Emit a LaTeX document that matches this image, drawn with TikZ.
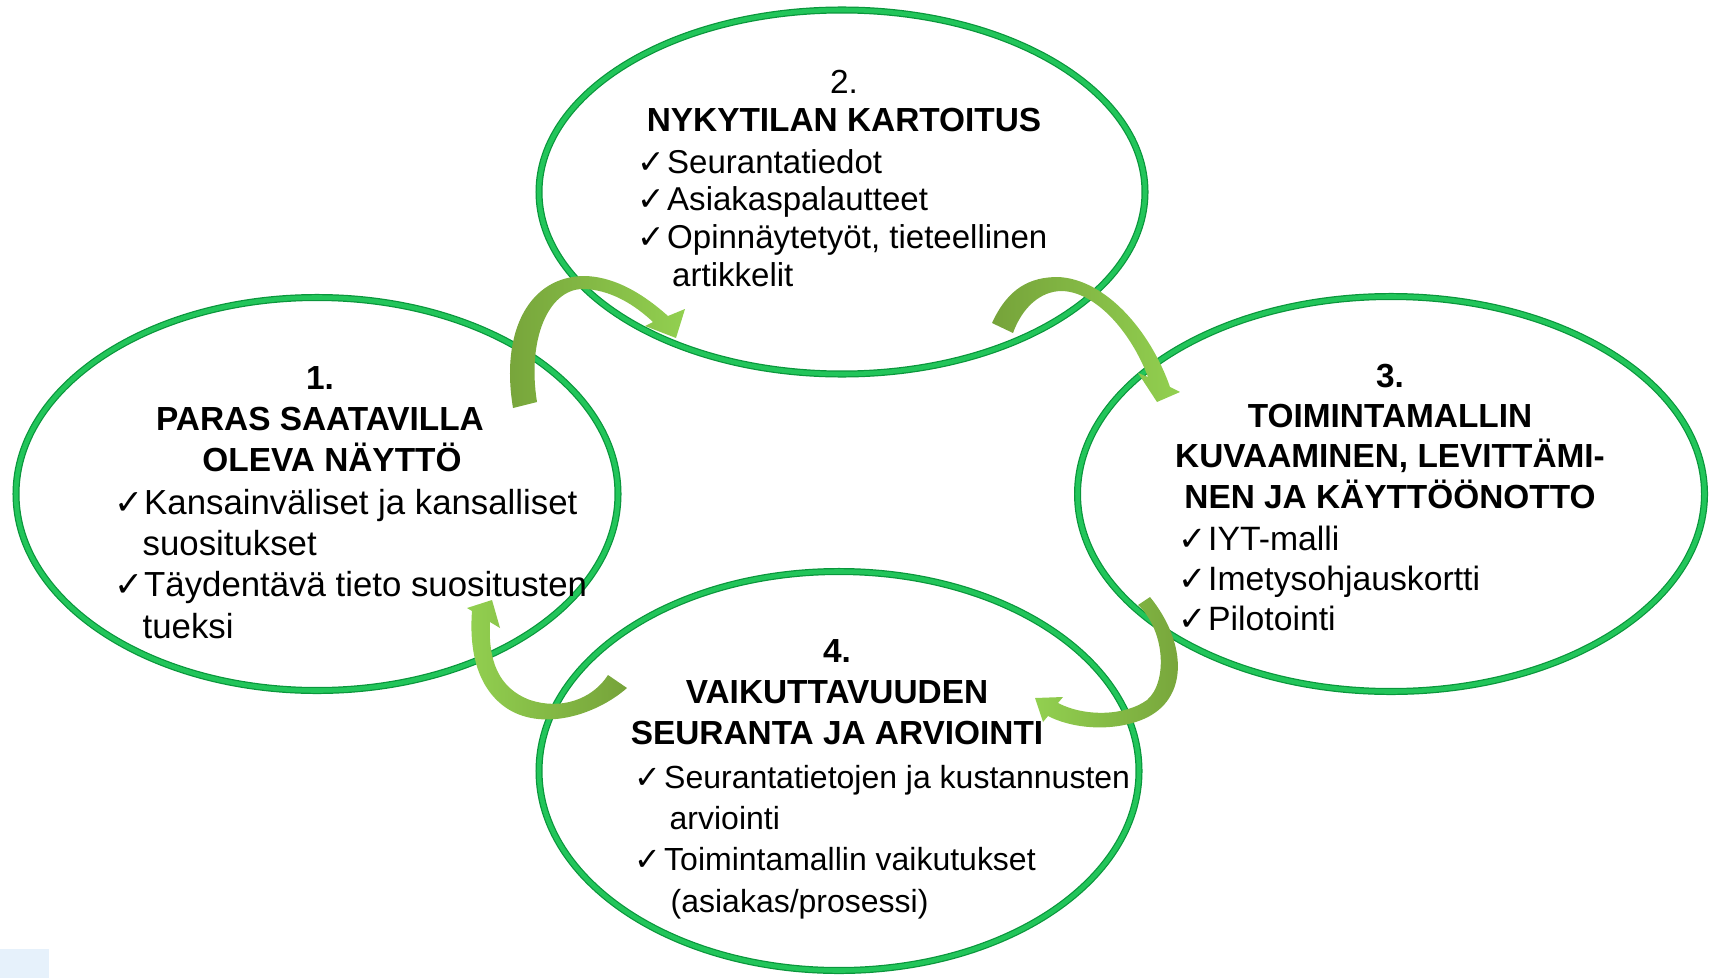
\documentclass[tikz,border=0pt]{standalone}
\usepackage{fontspec}
\setmainfont{Liberation Sans}
\newfontfamily\dejavu{DejaVu Sans}
\usetikzlibrary{shapes.geometric}

\definecolor{vertBulle}{RGB}{34,197,90}
\definecolor{vertBord}{RGB}{10,150,60}
\definecolor{vertFonce}{RGB}{118,163,58}
\definecolor{vertClair}{RGB}{146,208,80}
\definecolor{bleuPale}{RGB}{230,241,251}

\newcommand{\Coche}{\makebox[2.95mm][l]{\dejavu ✓}}

\tikzset{
  bulle/.style={ellipse, draw=vertBord, double=vertBulle, double distance=1.3pt, line width=0.35pt, inner sep=0pt},
  titre/.style={anchor=base, inner sep=0pt, font=\bfseries},
  liste/.style={anchor=base west, inner sep=0pt}
}

\begin{document}
\begin{tikzpicture}[x=0.1mm, y=-0.1mm]

\useasboundingbox (0,0) rectangle (1714,978);
\fill[bleuPale] (0,949) rectangle (49,978);

%les quatre ellipses
\foreach \nom/\cx/\cy/\lx/\ly in {1/317/494/60.2/39.3, 2/842/192/60.6/36.4, 3/1391/494/62.7/39.5, 4/839/771/60.0/39.9}{
  \node[bulle, minimum width=\lx mm, minimum height=\ly mm] (e\nom) at (\cx,\cy) {};
}

%début des flèches
% 1 vers 2
\shade[left color=vertFonce, right color=vertClair] (513,408) .. controls (500,330) and (530,276) .. (585,276)
  .. controls (620,277) and (650,300) .. (668,316) -- (685,309) -- (676,338) -- (645,326) -- (653,322)
  .. controls (635,305) and (610,289) .. (582,289) .. controls (548,290) and (527,340) .. (537,402) -- cycle;
% 2 vers 3
\shade[left color=vertFonce, right color=vertClair] (992,323) .. controls (1008,288) and (1030,277) .. (1058,277)
  .. controls (1105,279) and (1150,330) .. (1170,387) -- (1180,392) -- (1157,402) -- (1138,373) -- (1148,377)
  .. controls (1130,330) and (1095,292) .. (1062,291) .. controls (1040,291) and (1022,308) .. (1013,333) -- cycle;
% 3 vers 4
\shade[left color=vertClair, right color=vertFonce] (1138,605) -- (1150,597) .. controls (1185,640) and (1190,695) .. (1148,717)
  .. controls (1118,732) and (1075,730) .. (1048,716) -- (1043,722) -- (1035,698) -- (1063,697) -- (1058,703)
  .. controls (1085,717) and (1125,716) .. (1147,700) .. controls (1168,682) and (1165,630) .. (1138,605) -- cycle;
% 4 vers 1
\shade[left color=vertClair, right color=vertFonce] (608,675) -- (627,688) .. controls (595,716) and (540,732) .. (505,707)
  .. controls (477,687) and (469,650) .. (472,611) -- (467,608) -- (492,600) -- (500,628) -- (490,622)
  .. controls (488,660) and (498,688) .. (530,700) .. controls (560,710) and (592,700) .. (608,675) -- cycle;
%fin des flèches

% 1.
\node[titre] (t1) at (320,389) {\fontsize{9.5}{11.7}\selectfont\begin{tabular}[t]{@{}c@{}}1.\\PARAS SAATAVILLA\\\hspace*{2.4mm}OLEVA NÄYTTÖ\end{tabular}};
\node[liste] (l1) at (114,514) {\fontsize{9.9}{11.8}\selectfont\begin{tabular}[t]{@{}l@{}}\Coche Kansainväliset ja kansalliset\\\hspace*{2.8mm}suositukset\\\Coche Täydentävä tieto suositusten\\\hspace*{2.8mm}tueksi\end{tabular}};

% 2.
\node[titre] (t2) at (844,94) {\fontsize{9.5}{10.8}\selectfont\begin{tabular}[t]{@{}c@{}}{\mdseries 2.}\\NYKYTILAN KARTOITUS\end{tabular}};
\node[liste] (l2) at (637,173) {\fontsize{9.4}{10.8}\selectfont\begin{tabular}[t]{@{}l@{}}\Coche Seurantatiedot\\\Coche Asiakaspalautteet\\\Coche Opinnäytetyöt, tieteellinen\\\hspace*{3.45mm}artikkelit\end{tabular}};

% 3.
\node[titre] (t3) at (1390,387) {\fontsize{9.5}{11.4}\selectfont\begin{tabular}[t]{@{}c@{}}3.\\TOIMINTAMALLIN\\KUVAAMINEN, LEVITTÄMI-\\NEN JA KÄYTTÖÖNOTTO\end{tabular}};
\node[liste] (l3) at (1178,550) {\fontsize{9.6}{11.5}\selectfont\begin{tabular}[t]{@{}l@{}}\Coche IYT-malli\\\Coche Imetysohjauskortti\\\Coche Pilotointi\end{tabular}};

% 4.
\node[titre] (t4) at (837,662) {\fontsize{9.5}{11.7}\selectfont\begin{tabular}[t]{@{}c@{}}4.\\VAIKUTTAVUUDEN\\SEURANTA JA ARVIOINTI\end{tabular}};
\node[liste] (l4) at (634,788) {\fontsize{9.1}{11.8}\selectfont\begin{tabular}[t]{@{}l@{}}\Coche Seurantatietojen ja kustannusten\\\hspace*{3.5mm}arviointi\\\Coche Toimintamallin vaikutukset\\\hspace*{3.6mm}(asiakas/prosessi)\end{tabular}};

\end{tikzpicture}
\end{document}
